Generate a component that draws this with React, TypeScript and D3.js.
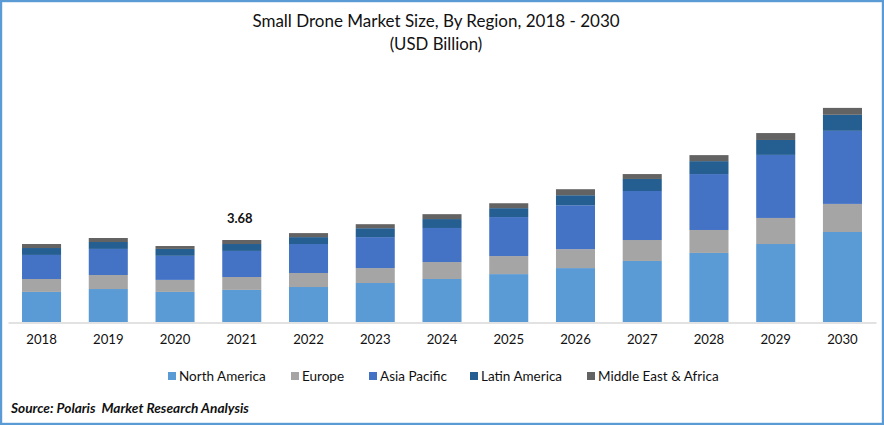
import * as d3 from 'd3';
import { useEffect, useRef } from 'react';

const years = ['2018', '2019', '2020', '2021', '2022', '2023', '2024', '2025', '2026', '2027', '2028', '2029', '2030'];
const regions = ['North America', 'Europe', 'Asia Pacific', 'Latin America', 'Middle East & Africa'];
const colors = ['#5b9bd5', '#a5a5a5', '#4472c4', '#255e91', '#636363'];

const northAmerica = [1.35, 1.48, 1.35, 1.44, 1.57, 1.75, 1.93, 2.15, 2.42, 2.74, 3.1, 3.5, 4.04];
const europe = [0.58, 0.63, 0.54, 0.58, 0.63, 0.67, 0.76, 0.81, 0.85, 0.94, 1.03, 1.17, 1.26];
const asiaPacific = [1.08, 1.17, 1.08, 1.17, 1.3, 1.39, 1.53, 1.75, 1.97, 2.2, 2.51, 2.83, 3.28];
const latinAmerica = [0.31, 0.31, 0.31, 0.31, 0.31, 0.4, 0.4, 0.4, 0.45, 0.54, 0.58, 0.67, 0.72];
const middleEast = [0.18, 0.18, 0.13, 0.18, 0.18, 0.18, 0.22, 0.22, 0.27, 0.22, 0.27, 0.31, 0.31];

const width = 884;
const height = 425;
const font = 'Lato, "Noto Sans", sans-serif';
const textColor = '#111';

export default function App() {
  const svgRef = useRef<SVGSVGElement>(null);

  useEffect(() => {
    if (!svgRef.current) return;
    const svg = d3.select(svgRef.current);
    svg.selectAll('*').remove();

    const rows = years.map((year, i) => ({
      year,
      'North America': northAmerica[i],
      Europe: europe[i],
      'Asia Pacific': asiaPacific[i],
      'Latin America': latinAmerica[i],
      'Middle East & Africa': middleEast[i]
    }));
    const series = d3.stack<any>().keys(regions)(rows);

    const x = d3.scaleBand().domain(years).range([8, 876]).paddingInner(0.415).paddingOuter(0.21);
    // 3.68 billion is 82px tall in the picture
    const y = d3.scaleLinear().domain([0, 10]).range([322, 322 - 222.8]);
    const color = d3.scaleOrdinal<string>().domain(regions).range(colors);

    // outer frame
    svg.append('rect')
      .attr('x', 1.1).attr('y', 1.1)
      .attr('width', width - 2.2).attr('height', height - 2.2)
      .attr('fill', '#fff')
      .attr('stroke', '#5b9bd5')
      .attr('stroke-width', 2.2);

    svg.append('text')
      .attr('x', 436).attr('y', 27)
      .attr('text-anchor', 'middle')
      .attr('font-size', 17)
      .text('Small Drone Market Size, By Region, 2018 - 2030');
    svg.append('text')
      .attr('x', 436).attr('y', 50)
      .attr('text-anchor', 'middle')
      .attr('font-size', 16.8)
      .text('(USD Billion)');

    svg.append('g')
      .selectAll('g')
      .data(series)
      .join('g')
      .attr('fill', d => color(d.key))
      .selectAll('rect')
      .data(d => d)
      .join('rect')
      .attr('x', d => x(d.data.year)!)
      .attr('y', d => y(d[1]))
      .attr('width', x.bandwidth())
      .attr('height', d => y(d[0]) - y(d[1]));

    const axis = svg.append('g')
      .attr('transform', 'translate(0,322.5)')
      .call(d3.axisBottom(x).tickSize(0).tickPadding(12));
    axis.select('.domain').attr('stroke', '#d9d9d9').attr('stroke-width', 1.5);
    axis.selectAll('text')
      .attr('font-family', font)
      .attr('font-size', 13.2)
      .attr('fill', textColor);

    // the one labelled total
    svg.append('text')
      .attr('x', x('2021')! + x.bandwidth() / 2 - 2)
      .attr('y', 223)
      .attr('text-anchor', 'middle')
      .attr('font-size', 13)
      .attr('font-weight', 700)
      .text('3.68');

    const legendX = [168, 291, 369, 470, 587];
    const legend = svg.append('g')
      .selectAll('g')
      .data(regions)
      .join('g')
      .attr('transform', (_, i) => `translate(${legendX[i]},372)`);
    legend.append('rect')
      .attr('width', 8).attr('height', 8)
      .attr('fill', d => color(d));
    legend.append('text')
      .attr('x', 11).attr('y', 9)
      .attr('font-size', 13.5)
      .text(d => d);

    svg.append('text')
      .attr('x', 11).attr('y', 413)
      .attr('font-size', 13.7)
      .attr('font-weight', 700)
      .attr('font-style', 'italic')
      .text('Source: Polaris  Market Research Analysis')
      .style('white-space', 'pre');

    svg.selectAll('text').attr('fill', textColor).attr('font-family', font);
  }, []);

  return (
    <svg
      ref={svgRef}
      width={width}
      height={height}
      style={{ position: 'absolute', left: 0, top: 0, display: 'block' }}
    />
  );
}
